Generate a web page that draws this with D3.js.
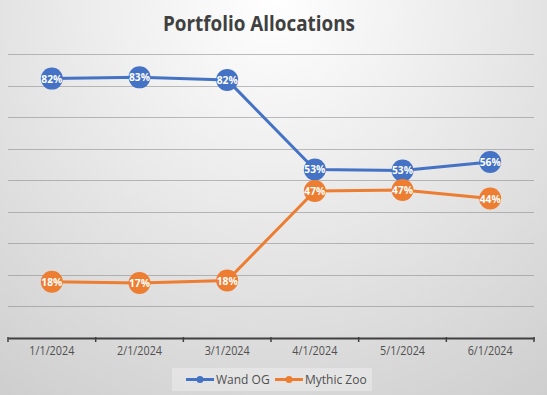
<!DOCTYPE html>
<html>
<head>
<meta charset="utf-8">
<script src="https://cdn.jsdelivr.net/npm/d3@7"></script>
<style>
html,body{margin:0;padding:0;background:#fff;}
svg{display:block;}
</style>
</head>
<body>
<svg id="chart" width="547" height="395"></svg>
<script>
const categories = ["1/1/2024","2/1/2024","3/1/2024","4/1/2024","5/1/2024","6/1/2024"];
const wandOG = [0.822, 0.826, 0.818, 0.534, 0.531, 0.558];
const mythicZoo = [0.178, 0.174, 0.182, 0.466, 0.469, 0.442];
const yTicks = [0.1,0.2,0.3,0.4,0.5,0.6,0.7,0.8,0.9];
const seriesNames = ["Wand OG","Mythic Zoo"];
const colors = ["#4472C4","#ED7D31"];

const W = 547, H = 395;
const svg = d3.select("#chart");
const defs = svg.append("defs");
const grad = defs.append("radialGradient").attr("id","bg")
  .attr("gradientUnits","userSpaceOnUse").attr("cx",273).attr("cy",0).attr("r",600);
grad.append("stop").attr("offset","0").attr("stop-color","#ffffff");
grad.append("stop").attr("offset","1").attr("stop-color","#c2c2c2");
svg.append("rect").attr("width",W).attr("height",H).attr("fill","url(#bg)");

const x = d3.scaleBand().domain(categories).range([8,534]).padding(0);
const y = d3.scaleLinear().domain([0,0.9]).range([338,54]);
const cx = d => x(d) + x.bandwidth()/2;

// title
svg.append("text").attr("x",259).attr("y",31).attr("text-anchor","middle")
  .attr("font-family","Open Sans, sans-serif").attr("font-weight","bold").attr("font-size",21)
  .attr("fill","#404040").attr("textLength",192).attr("lengthAdjust","spacingAndGlyphs")
  .text("Portfolio Allocations");

// gridlines
svg.append("g").selectAll("line").data(yTicks).join("line")
  .attr("x1",8).attr("x2",534).attr("y1",d=>Math.round(y(d))+0.5).attr("y2",d=>Math.round(y(d))+0.5)
  .attr("stroke","#808080").attr("stroke-opacity",0.5).attr("stroke-width",1);

// axis
const axis = d3.axisBottom(x).tickSize(0).tickPadding(8);
const ag = svg.append("g").attr("transform","translate(0,338)").call(axis);
ag.select(".domain").attr("stroke","#404040").attr("stroke-width",2.2);
ag.selectAll("text").attr("font-family","Open Sans, sans-serif").attr("font-size",12)
  .attr("fill","#505050").attr("textLength",45).attr("lengthAdjust","spacingAndGlyphs");
const edges = categories.map(c=>x(c)).concat([x(categories[categories.length-1])+x.bandwidth()]);
svg.append("g").selectAll("line").data(edges).join("line")
  .attr("x1",d=>d).attr("x2",d=>d).attr("y1",337).attr("y2",342)
  .attr("stroke","#404040").attr("stroke-width",1.5);

// series
const series = [wandOG, mythicZoo];
const line = d3.line().x((d,i)=>cx(categories[i])).y(d=>y(d));
series.forEach((vals,si)=>{
  const g = svg.append("g");
  g.append("path").datum(vals).attr("d",line).attr("fill","none")
    .attr("stroke",colors[si]).attr("stroke-width",3).attr("stroke-linejoin","round");
  g.selectAll("circle").data(vals).join("circle")
    .attr("cx",(d,i)=>cx(categories[i])).attr("cy",d=>y(d)).attr("r",11)
    .attr("fill",colors[si]);
  g.selectAll("text").data(vals).join("text")
    .attr("x",(d,i)=>cx(categories[i])).attr("y",d=>y(d)+4)
    .attr("text-anchor","middle").attr("font-family","Open Sans, sans-serif")
    .attr("font-weight","bold").attr("font-size",11).attr("fill","#ffffff")
    .attr("textLength",21).attr("lengthAdjust","spacingAndGlyphs")
    .text(d=>Math.round(d*100)+"%");
});

// legend
const lg = svg.append("g");
lg.append("rect").attr("x",172).attr("y",368).attr("width",200).attr("height",23)
  .attr("fill","#ffffff").attr("fill-opacity",0.3);
const lx = [186, 275];
seriesNames.forEach((n,i)=>{
  lg.append("line").attr("x1",lx[i]).attr("x2",lx[i]+28).attr("y1",379.5).attr("y2",379.5)
    .attr("stroke",colors[i]).attr("stroke-width",3);
  lg.append("circle").attr("cx",lx[i]+14).attr("cy",379.5).attr("r",3.5).attr("fill",colors[i]);
  lg.append("text").attr("x",lx[i]+30).attr("y",384).attr("font-family","Open Sans, sans-serif")
    .attr("font-size",12).attr("fill","#505050").text(n);
});
</script>
</body>
</html>
